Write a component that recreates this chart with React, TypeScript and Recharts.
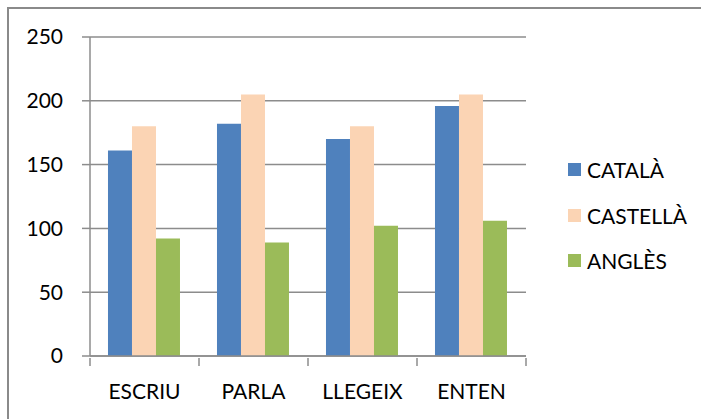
import { BarChart, Bar, XAxis, YAxis, CartesianGrid } from 'recharts';

const CATEGORIES = ['ESCRIU', 'PARLA', 'LLEGEIX', 'ENTEN'];
const CATALA = [161, 182, 170, 196];
const CASTELLA = [180, 205, 180, 205];
const ANGLES = [92, 89, 102, 106];
const Y_TICKS = [0, 50, 100, 150, 200, 250];

const SERIES = [
  { key: 'catala', name: 'CATALÀ', color: '#4F81BD', values: CATALA },
  { key: 'castella', name: 'CASTELLÀ', color: '#FBD4B4', values: CASTELLA },
  { key: 'angles', name: 'ANGLÈS', color: '#9BBB59', values: ANGLES },
];

const data = CATEGORIES.map((c, i) => {
  const row: Record<string, string | number> = { cat: c };
  SERIES.forEach(s => { row[s.key] = s.values[i]; });
  return row;
});

const FONT = 'Lato, "Open Sans", sans-serif';
const FS = 21;
const GRID = '#8c8c8c';
const W = 701, H = 419;
const M = { top: 37, right: 175, bottom: 0, left: 0 };
const Y_W = 90;
const HALF_BAND = (W - M.left - M.right - Y_W) / CATEGORIES.length / 2;

const XTick = (props: any) => {
  const { x, y, payload, index } = props;
  const last = index === CATEGORIES.length - 1;
  const y0 = y - 6; // axis line
  return (
    <g>
      <line x1={x - HALF_BAND} x2={x - HALF_BAND} y1={y0} y2={y0 + 8} stroke={GRID} strokeWidth={1.5} />
      {last && <line x1={x + HALF_BAND} x2={x + HALF_BAND} y1={y0} y2={y0 + 8} stroke={GRID} strokeWidth={1.5} />}
      <text x={x} y={y0 + 34} dy="0.35em" textAnchor="middle" fill="#000" fontSize={FS} fontFamily={FONT}>{payload.value}</text>
    </g>
  );
};

export default function App() {
  return (
    <div style={{ position: 'absolute', left: 0, top: 0, width: W, height: H, background: '#fff', overflow: 'hidden' }}>
      <div style={{ position: 'absolute', left: 7, top: 7, width: W, height: H, borderTop: '2px solid #8a8a8a', borderLeft: '2px solid #8a8a8a', boxSizing: 'border-box' }} />
      <BarChart width={W} height={H} data={data} margin={M} barGap={0} barCategoryGap="16.5%">
        <CartesianGrid vertical={false} stroke={GRID} strokeWidth={1.5} />
        <XAxis dataKey="cat" height={63} axisLine={{ stroke: GRID, strokeWidth: 1.5 }} tickLine={false} tick={<XTick />} interval={0} />
        <YAxis
          width={Y_W}
          domain={[0, 250]}
          ticks={Y_TICKS}
          interval={0}
          axisLine={{ stroke: GRID, strokeWidth: 1.5 }}
          tickLine={{ stroke: GRID, strokeWidth: 1.5 }}
          tickSize={8}
          tickMargin={19}
          tick={{ fill: '#000', fontSize: FS, fontFamily: FONT }}
        />
        {SERIES.map(s => (
          <Bar key={s.key} dataKey={s.key} name={s.name} fill={s.color} isAnimationActive={false} />
        ))}
      </BarChart>
      <div style={{ position: 'absolute', left: 568, top: 147, fontFamily: FONT, fontSize: FS, color: '#000' }}>
        {SERIES.map(s => (
          <div key={s.key} style={{ display: 'flex', alignItems: 'center', height: 45.5 }}>
            <span style={{ width: 13, height: 13, background: s.color, display: 'inline-block', marginRight: 6 }} />
            <span>{s.name}</span>
          </div>
        ))}
      </div>
    </div>
  );
}
